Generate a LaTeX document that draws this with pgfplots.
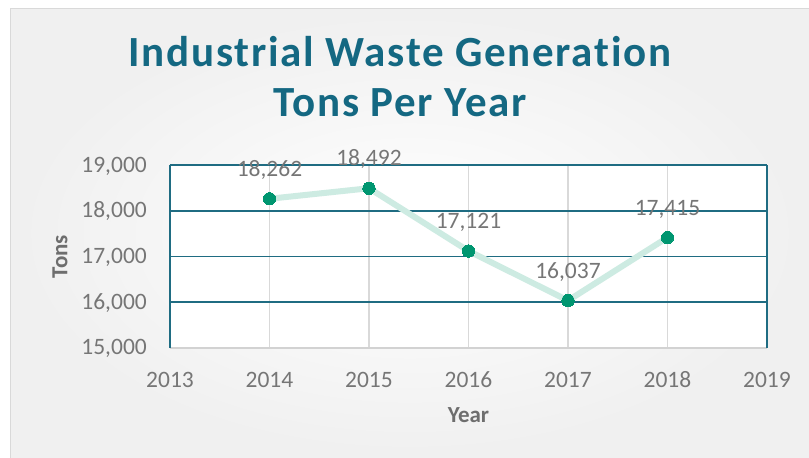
\documentclass[border=0pt]{standalone}
\usepackage{fontspec}
\setmainfont[Ligatures=NoCommon]{Carlito}
\newfontfamily\titlefont[LetterSpace=4,Ligatures=NoCommon]{Carlito}
\usepackage{pgfplots}
\pgfplotsset{compat=1.18}
\definecolor{titlec}{RGB}{20,104,130}
\definecolor{gridteal}{RGB}{31,108,130}
\definecolor{vgrid}{RGB}{217,217,217}
\definecolor{bottomc}{RGB}{210,210,210}
\definecolor{markc}{RGB}{0,150,112}
\definecolor{linec}{RGB}{205,235,226}
\definecolor{txt}{RGB}{118,118,118}
\definecolor{lbl}{RGB}{110,110,110}
\begin{document}
\begin{tikzpicture}[x=1pt,y=1pt]
\useasboundingbox (0,0) rectangle (809,458);
\fill[white] (0,0) rectangle (809,458);
\shade[inner color=white, outer color=black!6] (10,0) rectangle (809,449.7);
\draw[black!15, line width=1pt] (10,0) -- (10,449.7) -- (809,449.7);
\node[font=\titlefont\bfseries\fontsize{43}{50}\selectfont, text=titlec, anchor=base, inner sep=0pt] at (400,391.3) {Industrial Waste Generation};
\node[font=\titlefont\bfseries\fontsize{43}{50}\selectfont, text=titlec, anchor=base, inner sep=0pt] at (400,341.3) {Tons Per Year};
\begin{axis}[
  at={(170pt,110pt)}, anchor=south west,
  scale only axis, width=597pt, height=183pt,
  xmin=2013, xmax=2019, ymin=15000, ymax=19000,
  xtick={2013,2014,...,2019},
  ytick={15000,16000,...,19000},
  scaled y ticks=false, scaled x ticks=false,
  clip=false,
  axis background/.style={fill=white},
  axis line style={draw=none},
  major tick length=0pt,
  tick style={draw=none},
  xmajorgrids, ymajorgrids,
  x grid style={color=vgrid, line width=1.5pt},
  y grid style={color=gridteal, line width=1.5pt},
  /pgf/number format/assume math mode=true,
  /pgf/number format/1000 sep={,},
  ticklabel style={font=\fontsize{23.5}{28}\selectfont, text=txt},
  yticklabel style={anchor=base east, inner sep=0pt, xshift=-23pt, yshift=-7pt, /pgf/number format/1000 sep={,}},
  xticklabel style={anchor=base, inner sep=0pt, yshift=-40pt, /pgf/number format/1000 sep={}},
  xlabel={Year}, ylabel={Tons},
  every axis x label/.style={at={(rel axis cs:0.5,0)}, anchor=base, yshift=-74.5pt, inner sep=0pt, font=\bfseries\fontsize{23}{27}\selectfont, text=lbl},
  every axis y label/.style={at={(rel axis cs:0,0.5)}, xshift=-110pt, rotate=90, anchor=center, inner sep=0pt, font=\bfseries\fontsize{23}{27}\selectfont, text=lbl},
]
\addplot[color=linec, line width=6pt, mark=*, mark size=6.2pt,
  mark options={solid, line width=0pt, draw=markc, fill=markc},
  nodes near coords,
  nodes near coords style={anchor=base, inner sep=0pt, yshift=22.5pt, font=\fontsize{23.5}{28}\selectfont, text=txt, /pgf/number format/1000 sep={,}}]
  coordinates {(2014,18262) (2015,18492) (2016,17121) (2017,16037) (2018,17415)};
\draw[bottomc, line width=1.5pt] (axis cs:2013,15000) -- (axis cs:2019,15000);
\draw[gridteal, line width=1.5pt] (axis cs:2013,15000) -- (axis cs:2013,19000);
\draw[gridteal, line width=1.5pt] (axis cs:2019,15000) -- (axis cs:2019,19000);
\end{axis}
\end{tikzpicture}
\end{document}
